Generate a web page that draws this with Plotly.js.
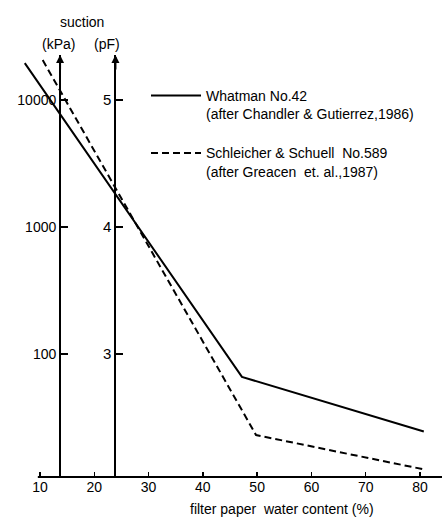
<!DOCTYPE html>
<html><head><meta charset="utf-8">
<script src="https://cdn.plot.ly/plotly-3.0.1.min.js"></script>
<style>html,body{margin:0;padding:0;background:#fff}</style>
</head><body><div id="chart" style="width:443px;height:517px"></div>
<script>
// ---- data ----
const whatmanX = [7.2, 47.2, 80.7];
const whatmanY = [19500, 66, 24.5];
const schleicherX = [10.5, 49.8, 80.5];
const schleicherY = [20600, 23, 12.4];
const xTicks = [10, 20, 30, 40, 50, 60, 70, 80];
const kPaTicks = [100, 1000, 10000];
const kPaLabels = ['100', '1000', '10000'];
const pFTicks = [3, 4, 5];
const pFLabels = ['3', '4', '5'];
const seriesNames = [
  'Whatman No.42<br>(after Chandler &amp; Gutierrez,1986)',
  'Schleicher &amp; Schuell\u00a0\u00a0No.589<br>(after Greacen\u00a0\u00a0et. al.,1987)'
];
const kPaAxisAt = 13.7;
const pFAxisAt = 23.9;
const xRange = [5.95, 84.05];
const logRange = [1.0315, 4.354];
const pFOffset = 1; // pF = log10(kPa) + 1

const FONT = 'Liberation Sans, Arial, sans-serif';
const W = 443, H = 517, M = {l: 18, r: 1, t: 55, b: 40};
const pw = W - M.l - M.r, ph = H - M.t - M.b;
const px2paperX = p => (p - M.l) / pw;
const px2paperY = p => 1 - (p - M.t) / ph;
const posOf = v => (v - xRange[0]) / (xRange[1] - xRange[0]);

const traces = [
  {x: whatmanX, y: whatmanY, type: 'scatter', mode: 'lines', name: seriesNames[0], legendgroup: 'a',
   line: {color: '#000', width: 2}, cliponaxis: false, hoverinfo: 'skip'},
  {x: schleicherX, y: schleicherY, type: 'scatter', mode: 'lines', name: seriesNames[1], legendgroup: 'b',
   line: {color: '#000', width: 2, dash: '7px,4px'}, cliponaxis: false, hoverinfo: 'skip'},
  {x: [null], y: [null], yaxis: 'y2', type: 'scatter', mode: 'lines', showlegend: false, hoverinfo: 'skip'}
];

const layout = {
  width: W, height: H,
  margin: M,
  paper_bgcolor: '#fff', plot_bgcolor: '#fff',
  font: {family: FONT, size: 14, color: '#000'},
  showlegend: true,
  legend: {x: px2paperX(146), y: px2paperY(80), xanchor: 'left', yanchor: 'top',
           bgcolor: 'rgba(0,0,0,0)', borderwidth: 0, valign: 'top',
           font: {family: FONT, size: 14, color: '#000'}, itemwidth: 50, tracegroupgap: 18,
           traceorder: 'grouped'},
  xaxis: {range: xRange, showgrid: false, zeroline: false, showline: false,
          tickmode: 'array', tickvals: xTicks, ticktext: xTicks.map(String),
          ticks: 'inside', ticklen: 5, tickwidth: 1.5, tickcolor: '#000',
          tickfont: {family: FONT, size: 14, color: '#000'}},
  yaxis: {type: 'log', range: logRange, anchor: 'free', position: posOf(kPaAxisAt), side: 'left',
          showgrid: false, zeroline: false, showline: true, linecolor: '#000', linewidth: 2,
          tickmode: 'array', tickvals: kPaTicks, ticktext: kPaLabels,
          ticks: 'inside', ticklen: 7, tickwidth: 1.5, tickcolor: '#000',
          tickfont: {family: FONT, size: 14, color: '#000'}},
  yaxis2: {overlaying: 'y', range: [logRange[0] + pFOffset, logRange[1] + pFOffset],
           anchor: 'free', position: posOf(pFAxisAt), side: 'left',
           showgrid: false, zeroline: false, showline: true, linecolor: '#000', linewidth: 2,
           tickmode: 'array', tickvals: pFTicks, ticktext: pFLabels,
           ticks: 'inside', ticklen: 7, tickwidth: 1.5, tickcolor: '#000',
           tickfont: {family: FONT, size: 15, color: '#000'}},
  shapes: [
    {type: 'line', xref: 'x', yref: 'paper', x0: 9.6, x1: xRange[1], y0: 0, y1: 0,
     line: {color: '#000', width: 2}}
  ],
  annotations: [
    {xref: 'x', yref: 'paper', x: kPaAxisAt, y: 1, text: '', showarrow: true, ax: 0, ay: 16,
     arrowhead: 2, arrowsize: 0.8, arrowwidth: 2, arrowcolor: '#000'},
    {xref: 'x', yref: 'paper', x: pFAxisAt, y: 1, text: '', showarrow: true, ax: 0, ay: 16,
     arrowhead: 2, arrowsize: 0.8, arrowwidth: 2, arrowcolor: '#000'},
    {xref: 'paper', yref: 'paper', x: px2paperX(82), y: px2paperY(22), text: 'suction',
     showarrow: false, xanchor: 'center', yanchor: 'middle', font: {size: 14}},
    {xref: 'paper', yref: 'paper', x: px2paperX(58), y: px2paperY(44), text: '(kPa)',
     showarrow: false, xanchor: 'center', yanchor: 'middle', font: {size: 14}},
    {xref: 'paper', yref: 'paper', x: px2paperX(107), y: px2paperY(44), text: '(pF)',
     showarrow: false, xanchor: 'center', yanchor: 'middle', font: {size: 14}},
    {xref: 'paper', yref: 'paper', x: px2paperX(282), y: px2paperY(509),
     text: 'filter paper\u00a0\u00a0water content (%)',
     showarrow: false, xanchor: 'center', yanchor: 'middle', font: {size: 14}}
  ]
};

Plotly.newPlot('chart', traces, layout, {displayModeBar: false, staticPlot: true});
</script>
</body></html>
